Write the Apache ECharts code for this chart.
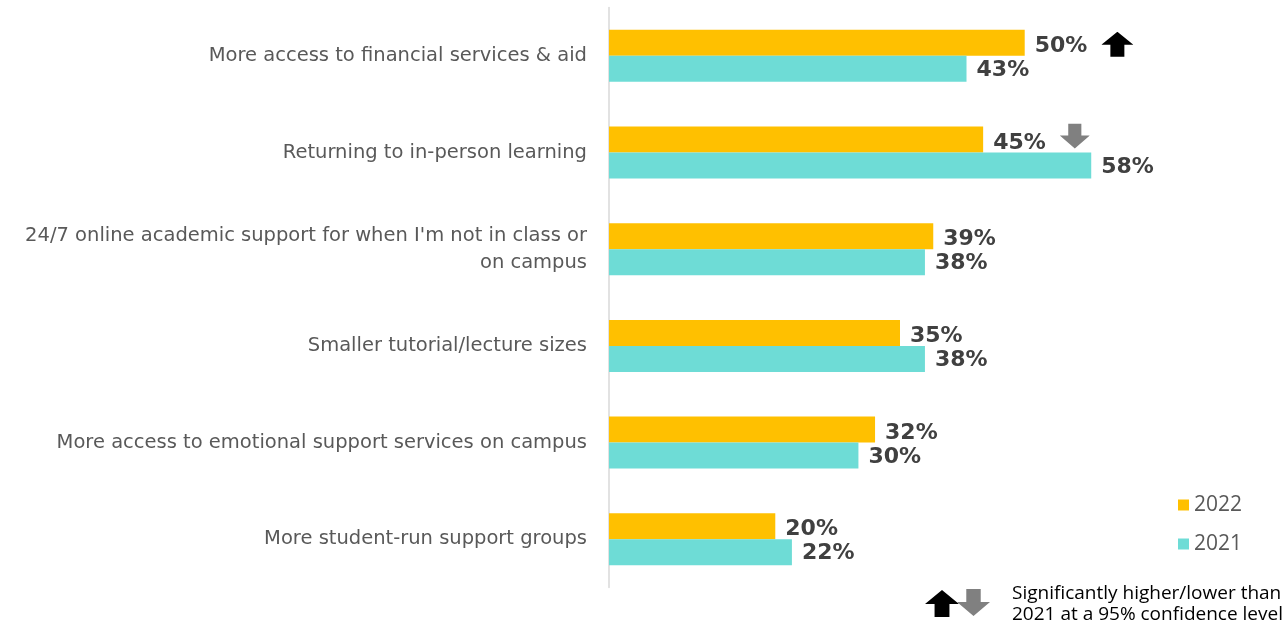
<!DOCTYPE html>
<html>
<head>
<meta charset="utf-8">
<script src="https://cdn.jsdelivr.net/npm/echarts@6/dist/echarts.min.js"></script>
<style>html,body{margin:0;padding:0;background:#fff}#c{width:1283px;height:623px}</style>
</head>
<body>
<div id="c"></div>
<script>
const categories = [
  'More access to financial services & aid',
  'Returning to in-person learning',
  "24/7 online academic support for when I'm not in class or\non campus",
  'Smaller tutorial/lecture sizes',
  'More access to emotional support services on campus',
  'More student-run support groups'
];
const values2022 = [50, 45, 39, 35, 32, 20];
const values2021 = [43, 58, 38, 38, 30, 22];
const significance = ['up', 'down', '', '', '', ''];
const seriesNames = ['2022', '2021'];
const footnoteLines = ['Significantly higher/lower than', '2021 at a 95% confidence level'];

const arrowSvg = (color, down, h) => 'data:image/svg+xml;charset=utf-8,' + encodeURIComponent(
  '<svg xmlns="http://www.w3.org/2000/svg" width="32" height="' + h + '" viewBox="0 0 32 ' + h + '">' +
  '<polygon fill="' + color + '" points="' + (down ? '16,25 32,12 23,12 23,0 9,0 9,12 0,12' : '16,0 32,13 23,13 23,25 9,25 9,13 0,13') + '"/></svg>');
const upImg = arrowSvg('#000000', false, 25);
const downImg = arrowSvg('#808080', true, 25);
const upImgRaised = arrowSvg('#000000', false, 29);
const downImgRaised = arrowSvg('#808080', true, 39);

const DEJAVU = '"DejaVu Sans"';
const chart = echarts.init(document.getElementById('c'), null, {renderer: 'canvas'});
const valueStyle = {fontFamily: DEJAVU, fontWeight: 'bold', fontSize: 22, color: '#404040'};

chart.setOption({
  animation: false,
  grid: {left: 609, right: 92, top: 7.5, bottom: 35.4, containLabel: false},
  xAxis: {type: 'value', min: 0, max: 70, show: false},
  yAxis: {
    type: 'category', data: categories, inverse: true,
    axisLine: {show: true, lineStyle: {color: '#d9d9d9', width: 1.5}},
    axisTick: {show: false},
    axisLabel: {color: '#595959', fontSize: 19.5, fontFamily: DEJAVU, margin: 22, lineHeight: 27, align: 'right'}
  },
  legend: {
    orient: 'vertical', left: 1178, top: 494.5, padding: 0, itemWidth: 11, itemHeight: 11, itemGap: 18,
    icon: 'rect',
    textStyle: {color: '#595959', fontSize: 21, lineHeight: 21, fontFamily: '"Open Sans"'},
    data: seriesNames
  },
  series: [
    {
      name: seriesNames[0], type: 'bar', data: values2022, barWidth: 26, barGap: '0%',
      itemStyle: {color: '#FFC000'},
      label: {
        show: true, position: 'right', distance: 10, offset: [0, 3.5],
        formatter: p => '{v|' + p.value + '%}' + (significance[p.dataIndex] ? '{gap|}{' + significance[p.dataIndex] + '|}' : ''),
        rich: {
          v: valueStyle,
          gap: {width: 14, height: 10},
          up: {width: 32, height: 29, backgroundColor: {image: upImgRaised}},
          down: {width: 30, height: 39, backgroundColor: {image: downImgRaised}}
        }
      }
    },
    {
      name: seriesNames[1], type: 'bar', data: values2021, barWidth: 26, barGap: '0%',
      itemStyle: {color: '#6EDCD6'},
      label: {show: true, position: 'right', distance: 10, offset: [0, 1.5], formatter: '{c}%', ...valueStyle}
    }
  ],
  graphic: [
    {type: 'image', left: 925, top: 590, style: {image: upImg, width: 34, height: 27}},
    {type: 'image', left: 957, top: 589, style: {image: downImg, width: 33, height: 27}},
    {type: 'text', left: 1012, top: 583, style: {text: footnoteLines.join('\n'), fill: '#000', fontSize: 19, lineHeight: 21, fontFamily: '"Open Sans"'}}
  ]
});
</script>
</body>
</html>
